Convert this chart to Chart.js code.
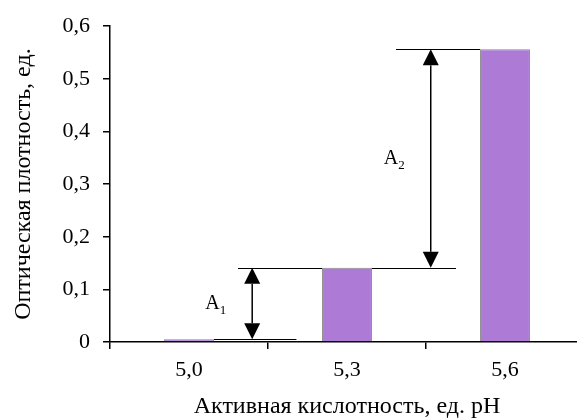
<!DOCTYPE html>
<html>
<head>
<meta charset="utf-8">
<script src="https://cdn.jsdelivr.net/npm/chart.js@4"></script>
<style>
  html, body { margin: 0; padding: 0; background: #fff; overflow: hidden; }
  #wrap { width: 600px; height: 421px; }
</style>
</head>
<body>
<div id="wrap"><canvas id="c"></canvas></div>
<script>

// data
const categories = ['5,0', '5,3', '5,6'];
const values = [0.005, 0.141, 0.556];
const yTicks = [0, 0.1, 0.2, 0.3, 0.4, 0.5, 0.6];

const xTitle = 'Активная кислотность, ед. pH';
const yTitle = 'Оптическая плотность, ед.';

const serif = 'Liberation Serif';


// draws the level lines and the A1 / A2 double arrows
const markup = {
    id: 'markup',
    afterDatasetsDraw(chart){
        const ctx = chart.ctx;
        const x = chart.scales.x;
        const y = chart.scales.y;
        const bars = chart.getDatasetMeta(0).data;

        function hline(x1, x2, v){
            const py = Math.round(y.getPixelForValue(v)) + 0.5;
            ctx.beginPath();
            ctx.moveTo(x1, py);
            ctx.lineTo(x2, py);
            ctx.stroke();
        }

        function arrow(px, v1, v2){
            const y1 = y.getPixelForValue(v1);
            const y2 = y.getPixelForValue(v2);
            const h = 16, w = 8;
            ctx.lineWidth = 1.5;
            ctx.beginPath();
            ctx.moveTo(px, y1 - h);
            ctx.lineTo(px, y2 + h);
            ctx.stroke();
            ctx.beginPath();
            ctx.moveTo(px, y2);
            ctx.lineTo(px - w, y2 + h);
            ctx.lineTo(px + w, y2 + h);
            ctx.closePath();
            ctx.fill();
            ctx.beginPath();
            ctx.moveTo(px, y1);
            ctx.lineTo(px - w, y1 - h);
            ctx.lineTo(px + w, y1 - h);
            ctx.closePath();
            ctx.fill();
        }

        function label(px, py, sub){
            ctx.textBaseline = 'middle';
            ctx.textAlign = 'left';
            ctx.font = '20px "' + serif + '"';
            ctx.fillText('A', px, py);
            const wA = ctx.measureText('A').width;
            ctx.font = '13px "' + serif + '"';
            ctx.fillText(sub, px + wA, py + 7);
        }

        ctx.save();
        ctx.strokeStyle = '#000';
        ctx.fillStyle = '#000';
        ctx.lineWidth = 1.2;

        const half = bars[0].width / 2;

        hline(x.getPixelForValue(0) + half, x.getPixelForValue(0.68), values[0]);
        hline(x.getPixelForValue(0.31), x.getPixelForValue(1) - half, values[1]);
        hline(x.getPixelForValue(1) + half, x.getPixelForValue(1.69), values[1]);
        hline(x.getPixelForValue(1.31), x.getPixelForValue(2) - half, values[2]);

        const a1 = x.getPixelForValue(0.4);
        const a2 = x.getPixelForValue(1.53);
        arrow(a1, values[0], values[1]);
        arrow(a2, values[1], values[2]);

        label(a1 - 47, y.getPixelForValue((values[0] + values[1]) / 2), '1');
        label(a2 - 47, y.getPixelForValue((values[1] + values[2]) / 2), '2');

        ctx.restore();
    }
};


let config = {
    type: 'bar',
    data: {
        labels: categories,
        datasets: [{
            data: values,
            backgroundColor: '#ad7bd6',
            borderColor: '#8a8a8a',
            borderWidth: 1,
            categoryPercentage: 1,
            barPercentage: 0.316
        }]
    },
    options: {
        responsive: true,
        maintainAspectRatio: false,
        animation: false,
        layout: {
            padding: { top: 23, right: 16, bottom: 0, left: 0 }
        },
        plugins: {
            legend: { display: false },
            tooltip: { enabled: false }
        },
        scales: {
            x: {
                offset: true,
                grid: {
                    offset: true,
                    drawOnChartArea: false,
                    drawTicks: true,
                    tickLength: 7,
                    color: '#000',
                    lineWidth: 1.5
                },
                border: { color: '#000', width: 1.5 },
                ticks: {
                    color: '#000',
                    padding: 8,
                    font: { family: serif, size: 22 }
                },
                title: {
                    display: true,
                    text: xTitle,
                    color: '#000',
                    padding: { top: 0, bottom: 0 },
                    font: { family: serif, size: 24 }
                },
                afterFit: s => { s.height = 79; }
            },
            y: {
                min: 0,
                max: 0.6,
                afterBuildTicks: s => { s.ticks = yTicks.map(v => ({ value: v })); },
                grid: {
                    drawOnChartArea: false,
                    drawTicks: true,
                    tickLength: 7,
                    color: '#000',
                    lineWidth: 1.5
                },
                border: { color: '#000', width: 1.5 },
                ticks: {
                    color: '#000',
                    padding: 13,
                    font: { family: serif, size: 22 },
                    callback: v => v === 0 ? '0' : v.toFixed(1).replace('.', ',')
                },
                title: {
                    display: true,
                    text: yTitle,
                    color: '#000',
                    padding: { top: 9, bottom: 4 },
                    font: { family: serif, size: 24 }
                },
                afterFit: s => { s.width = 110; }
            }
        }
    },
    plugins: [markup]
};

new Chart(document.getElementById('c'), config);

</script>
</body>
</html>
